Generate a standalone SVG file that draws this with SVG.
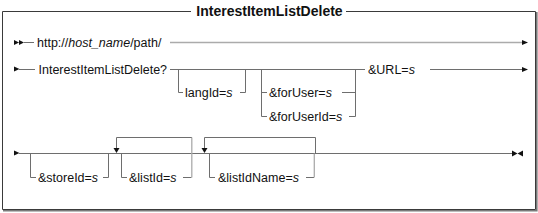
<svg xmlns="http://www.w3.org/2000/svg" width="538" height="213" viewBox="0 0 538 213">
<style>
text{font-family:"Liberation Sans",Arial,Helvetica,sans-serif;font-size:12.5px;fill:#111}
.title{font-weight:bold;font-size:14px}
.i{font-style:italic}
.ln{fill:none;stroke:#6e6e6e;stroke-width:1}
.lt{fill:none;stroke:#ababab;stroke-width:1.3}
.ar{fill:#111}
</style>
<rect x="0" y="0" width="538" height="213" fill="#fff"/>
<g id="frame">
<path d="M2.5,11.5 H191 M346,11.5 H535.5 V209.5 H2.5 V11.5" fill="none" stroke="#3a3a3a" stroke-width="1"/>
<path d="M3,210.8 H536.8 V12" fill="none" stroke="#7a7a7a" stroke-width="1.6"/>
<text class="title" x="269.5" y="16" text-anchor="middle">InterestItemListDelete</text>
</g>
<g id="connectors">
<path class="ar" d="M14,40 L19,42.5 L14,45 Z M19,40 L24,42.5 L19,45 Z"/>
<path class="ln" d="M24,42.5 H34"/>
<path class="lt" d="M170,42.5 H522"/>
<path class="ar" d="M522,40 L528,42.5 L522,45 Z"/>
<path class="ar" d="M14,66.5 L19.5,69 L14,71.5 Z"/>
<path class="ln" d="M19,69.5 H35"/>
<path class="ln" d="M170,69.5 H365"/>
<path class="ln" d="M178.5,69.5 V92.5 H183 M240,92.5 H245.5 V69.5"/>
<path class="ln" d="M261.5,69.5 V116.5 H267 M261.5,92.5 H267 M342,92.5 H355.5 M349,116.5 H355.5 V69.5"/>
<path class="ln" d="M430,69.5 H522"/>
<path class="ar" d="M522,67 L528,69.5 L522,72 Z"/>
<path class="ar" d="M14,150.5 L19.5,153 L14,155.5 Z"/>
<path class="ln" d="M19,153.5 H512"/>
<path class="ln" d="M30.5,153.5 V177.5 H36 M103,177.5 H108.5 V153.5"/>
<path class="ln" d="M116.5,148 V137.5 H192"/>
<path class="ar" d="M113.5,148 L119.5,148 L116.5,153 Z"/>
<path class="ln" d="M121.5,153.5 V177.5 H127 M183,177.5 H191.5"/>
<path class="lt" d="M191.8,137.5 V177.5"/>
<path class="ln" d="M204.5,148 V137.5 H315.5 V153"/>
<path class="ar" d="M201.5,148 L207.5,148 L204.5,153 Z"/>
<path class="ln" d="M209.5,153.5 V177.5 H215 M306,177.5 H314"/>
<path class="lt" d="M314.3,153.5 V177.5"/>
<path class="ar" d="M512,150.5 L517.5,153.5 L512,156.5 Z M523,150.5 L517.5,153.5 L523,156.5 Z"/>
</g>
<g id="n-url1"><text x="37" y="47">http://<tspan class="i">host_name</tspan>/path/</text></g>
<g id="n-cmd"><text x="38.5" y="74">InterestItemListDelete?</text></g>
<g id="n-langId"><text x="185" y="97">langId=<tspan class="i">s</tspan></text></g>
<g id="n-forUser"><text x="269" y="97">&amp;forUser=<tspan class="i">s</tspan></text></g>
<g id="n-forUserId"><text x="269" y="121">&amp;forUserId=<tspan class="i">s</tspan></text></g>
<g id="n-URL"><text x="368" y="74">&amp;URL=<tspan class="i">s</tspan></text></g>
<g id="n-storeId"><text x="38" y="182">&amp;storeId=<tspan class="i">s</tspan></text></g>
<g id="n-listId"><text x="129" y="182">&amp;listId=<tspan class="i">s</tspan></text></g>
<g id="n-listIdName"><text x="218" y="182">&amp;listIdName=<tspan class="i">s</tspan></text></g>
</svg>
